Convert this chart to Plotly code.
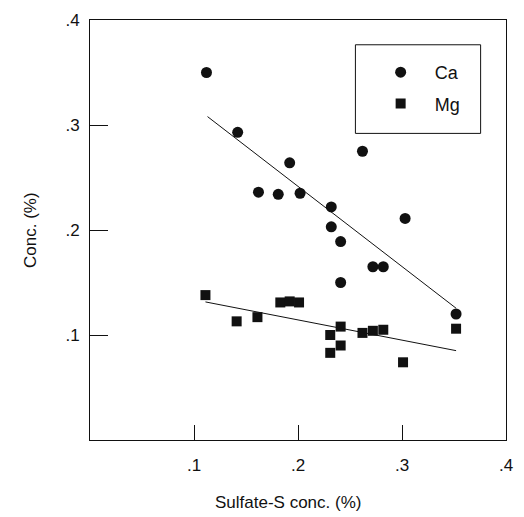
import plotly.graph_objects as go

# Data
ca_x = [0.112, 0.142, 0.192, 0.162, 0.181, 0.202, 0.262, 0.232, 0.232, 0.241, 0.303, 0.272, 0.282, 0.241, 0.352]
ca_y = [0.350, 0.293, 0.264, 0.236, 0.234, 0.235, 0.275, 0.222, 0.203, 0.189, 0.211, 0.165, 0.165, 0.150, 0.120]

mg_x = [0.111, 0.141, 0.161, 0.183, 0.192, 0.201, 0.241, 0.231, 0.241, 0.231, 0.262, 0.272, 0.282, 0.301, 0.352]
mg_y = [0.138, 0.113, 0.117, 0.131, 0.132, 0.131, 0.108, 0.100, 0.090, 0.083, 0.102, 0.104, 0.105, 0.074, 0.106]

ca_fit_x = [0.113, 0.352]
ca_fit_y = [0.308, 0.1255]
mg_fit_x = [0.111, 0.352]
mg_fit_y = [0.1315, 0.0851]

tick_vals = [0.1, 0.2, 0.3, 0.4]
tick_text = [".1", ".2", ".3", ".4"]

x_title = "Sulfate-S conc. (%)"
y_title = "Conc. (%)"

FONT = "Liberation Sans, Arial, sans-serif"
INK = "#111111"

fig = go.Figure()
fig.add_trace(go.Scatter(x=ca_x, y=ca_y, mode="markers", name="Ca", legendgroup="ca",
                         marker=dict(symbol="circle", size=11, color=INK)))
fig.add_trace(go.Scatter(x=mg_x, y=mg_y, mode="markers", name="Mg", legendgroup="mg",
                         marker=dict(symbol="square", size=10, color=INK)))
fig.add_trace(go.Scatter(x=ca_fit_x, y=ca_fit_y, mode="lines", showlegend=False,
                         line=dict(color=INK, width=1)))
fig.add_trace(go.Scatter(x=mg_fit_x, y=mg_fit_y, mode="lines", showlegend=False,
                         line=dict(color=INK, width=1)))

axis_common = dict(
    showgrid=False, zeroline=False, showline=True, linecolor=INK, linewidth=1,
    mirror=True, ticks="inside", tickcolor=INK, tickwidth=1,
    tickvals=tick_vals, ticktext=tick_text, range=[0, 0.4],
    tickfont=dict(family=FONT, size=17, color=INK),
)

fig.update_layout(
    width=524, height=517,
    margin=dict(l=90, r=11, t=17, b=77),
    paper_bgcolor="white", plot_bgcolor="white",
    font=dict(family=FONT, size=17, color=INK),
    xaxis=dict(ticklen=15, ticklabelstandoff=10, **axis_common),
    yaxis=dict(ticklen=18, ticklabelstandoff=6, **axis_common),
    legend=dict(x=0.665, y=0.919, xanchor="left", yanchor="top",
                borderwidth=0, bgcolor="rgba(0,0,0,0)",
                font=dict(family=FONT, size=18, color=INK),
                tracegroupgap=5, itemwidth=58, traceorder="grouped"),
    showlegend=True,
    shapes=[dict(type="rect", xref="paper", yref="paper",
                 x0=0.638, x1=0.939, y0=0.730, y1=0.941,
                 line=dict(color=INK, width=1), fillcolor="rgba(0,0,0,0)")],
    annotations=[
        dict(text=x_title, xref="paper", yref="paper", x=0.475, y=0,
             xanchor="center", yanchor="middle", yshift=-62, showarrow=False,
             font=dict(family=FONT, size=17, color=INK)),
        dict(text=y_title, xref="paper", yref="paper", x=0, y=0.5,
             xanchor="center", yanchor="middle", xshift=-60, textangle=-90,
             showarrow=False, font=dict(family=FONT, size=17, color=INK)),
    ],
)

fig.write_html("out.html", config={"displayModeBar": False},
               post_script="document.body.style.margin='0';")
